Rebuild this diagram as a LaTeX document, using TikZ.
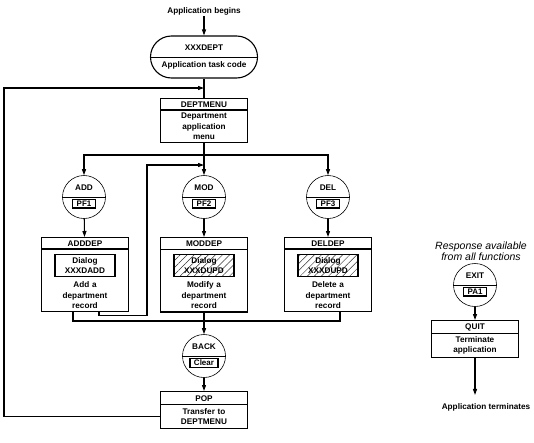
\documentclass[tikz,border=0pt]{standalone}
\usepackage{fontspec}
\setmainfont{Liberation Sans}
\usetikzlibrary{arrows.meta, positioning, shapes.multipart, patterns.meta}

\begin{document}
\begin{tikzpicture}[
    x=1pt, y=-1pt,
    font=\fontsize{8.2}{10.5}\selectfont\bfseries,
    line/.style={-{Triangle[length=6pt, width=4pt]}, line width=1.1pt},
    wire/.style={line width=1.1pt},
    fbox/.style={rectangle split, rectangle split parts=2, draw, line width=1.3pt,
                 text width=80pt, align=center, inner xsep=3.5pt, inner ysep=2.2pt,
                 anchor=north},
    oval/.style={draw, line width=1.1pt, rounded corners=21pt, minimum width=107pt,
                 minimum height=42pt, align=center, inner sep=0pt},
    keycirc/.style={circle, draw, line width=0.6pt, minimum size=43pt, inner sep=0pt},
    keybox/.style={draw, line width=1.4pt, inner xsep=4pt, inner ysep=1.4pt,
                   font=\fontsize{8}{8}\selectfont\bfseries},
    dialog/.style={draw, line width=1.3pt, minimum width=60pt, minimum height=22pt,
                   align=center, inner sep=1pt},
    hatched/.style={dialog, pattern={Lines[angle=45, distance=5pt, line width=0.5pt]},
                    pattern color=black!80},
    note/.style={align=center, inner sep=1pt},
  ]
  \useasboundingbox (0,0) rectangle (534,442);
  % Start
  \node[note] (begins) at (204,11) {Application begins};
  \node[oval] (xxxdept) at (204,57) {XXXDEPT\\[6pt]Application task code};
  \draw[line width=0.8pt] (xxxdept.west) -- (xxxdept.east);
  \node[fbox] (deptmenu) at (204,98) {DEPTMENU\nodepart{two}Department\\application\\menu};
  \coordinate (loopin) at (204,88);
  \coordinate (leftrail) at (4,88);
  \coordinate (branch) at (204,155);
  \coordinate (retin) at (204,165);
  \coordinate (retrail) at (147,165);
  \coordinate (merge) at (204,321);
  % Keys
  \foreach \n/\x/\y/\lab/\key in {add/84/197/ADD/PF1, mod/204/197/MOD/PF2,
      del/328/197/DEL/PF3, back/204/356/BACK/Clear, exit/475/285/EXIT/PA1}{
    \node[keycirc] (\n) at (\x,\y) {};
    \node[above=2.5pt] at (\n.center) {\lab};
    \node[keybox, below=2pt] (\n-key) at (\n.center) {\key};
    \draw[line width=0.6pt] (\n.west) -- (\n.east);
  }
  % Functions
  \foreach \n/\x/\head/\act/\dlg/\kind in {adddep/85/ADDDEP/Add a/XXXDADD/dialog,
      moddep/204/MODDEP/Modify a/XXXDUPD/hatched, deldep/328/DELDEP/Delete a/XXXDUPD/hatched}{
    \node[fbox] (\n) at (\x,237) {\head\nodepart{two}\rule[-29pt]{0pt}{29pt}\\\act\\department\\record};
    \node[\kind, below=5pt of \n.text split] (\n-dlg) {Dialog\\\dlg};
  }
  \node[fbox, inner ysep=3pt] (pop) at (204,391) {POP\nodepart{two}Transfer to\\DEPTMENU};
  % Exit
  \node[note, font=\fontsize{10.5}{11.5}\selectfont\itshape] (resp) at (481,251)
    {Response available\\from all functions};
  \node[fbox] (quit) at (475,320) {QUIT\nodepart{two}Terminate\\application};
  \node[note] (ends) at (486,407) {Application terminates};
  % arrows
  \draw[line] (begins) -- (xxxdept);
  \draw[wire] (xxxdept) -- (deptmenu);
  \draw[line] (deptmenu) -- (mod);
  \draw[line] (branch) -| (add.north);
  \draw[line] (branch) -| (del.north);
  \draw[line] (add) -- (adddep);
  \draw[line] (mod) -- (moddep);
  \draw[line] (del) -- (deldep);
  \draw[line] ([xshift=14pt]adddep.south) -- ++(0,3) -| (retrail) -- (retin);
  \draw[wire] ([xshift=-12pt]adddep.south) |- (merge) -| ([xshift=12pt]deldep.south);
  \draw[line] (moddep) -- (back);
  \draw[line] (back) -- (pop);
  \draw[line] ([yshift=-6pt]pop.west) -| (leftrail) -- (loopin);
  \draw[line] (exit) -- (quit);
  \draw[line] (quit.south) -- ([yshift=7pt]quit.south |- ends.north);
\end{tikzpicture}
\end{document}
